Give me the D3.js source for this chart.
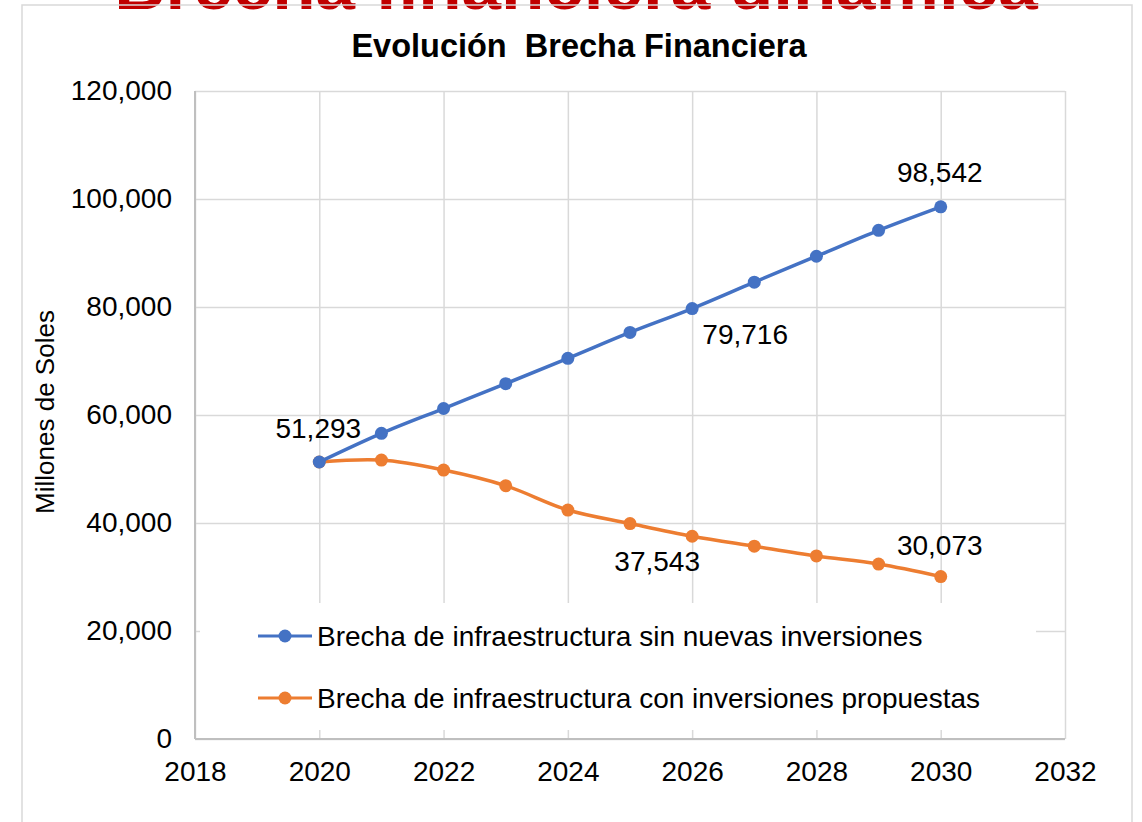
<!DOCTYPE html>
<html>
<head>
<meta charset="utf-8">
<script src="https://cdn.jsdelivr.net/npm/d3@7"></script>
<style>
  body { margin: 0; background: #fff; }
  text { font-family: "Liberation Sans", Arial, sans-serif; }
</style>
</head>
<body>
<div id="chart"></div>
<script>
var width = 1142;
var height = 822;

// data
var years = [2020, 2021, 2022, 2023, 2024, 2025, 2026, 2027, 2028, 2029, 2030];
var sinInversiones = [51293, 56600, 61200, 65800, 70500, 75300, 79716, 84600, 89400, 94200, 98542];
var conInversiones = [51293, 51650, 49800, 46900, 42400, 39900, 37543, 35700, 33900, 32400, 30073];
var seriesNames = ['Brecha de infraestructura sin nuevas inversiones',
                   'Brecha de infraestructura con inversiones propuestas'];
var xTicks = [2018, 2020, 2022, 2024, 2026, 2028, 2030, 2032];
var yTicks = [0, 20000, 40000, 60000, 80000, 100000, 120000];

var margin = { top: 91, right: 77, bottom: 83, left: 195 };
var chartWidth = width - margin.left - margin.right;
var chartHeight = height - margin.top - margin.bottom;

var blue = '#4472C4';
var orange = '#ED7D31';

var svg = d3.select('#chart').append('svg')
    .attr('width', width)
    .attr('height', height);

// red heading, cut off at the top as in the source image
svg.append('text')
    .attr('x', 576)
    .attr('y', 9)
    .attr('text-anchor', 'middle')
    .style('font-size', '71px')
    .style('font-weight', 'bold')
    .attr('fill', '#C00000')
    .text('Brecha financiera dinámica');

// chart frame
svg.append('rect')
    .attr('x', 22)
    .attr('y', 5)
    .attr('width', 1110)
    .attr('height', 840)
    .attr('fill', 'none')
    .attr('stroke', '#d9d9d9')
    .attr('stroke-width', 1.5);

svg.append('text')
    .attr('x', 579)
    .attr('y', 57)
    .attr('text-anchor', 'middle')
    .style('font-size', '32.5px')
    .style('font-weight', 'bold')
    .attr('fill', '#000')
    .attr('xml:space', 'preserve')
    .text('Evolución  Brecha Financiera');

var g = svg.append('g')
    .attr('transform', `translate(${margin.left}, ${margin.top})`);

var xScale = d3.scaleLinear()
    .domain([2018, 2032])
    .range([0, chartWidth]);

var yScale = d3.scaleLinear()
    .domain([0, 120000])
    .range([chartHeight, 0]);

// gridlines
g.append('g')
    .attr('class', 'grid')
    .call(d3.axisLeft(yScale).tickValues(yTicks).tickSize(-chartWidth).tickFormat(''))
    .call(a => a.select('.domain').remove());

g.append('g')
    .attr('class', 'grid')
    .attr('transform', `translate(0, ${chartHeight})`)
    .call(d3.axisBottom(xScale).tickValues(xTicks).tickSize(-chartHeight).tickFormat(''))
    .call(a => a.select('.domain').remove());

g.selectAll('.grid line')
    .attr('stroke', '#d9d9d9')
    .attr('stroke-width', 1.5);

// tick labels
var yAxis_g = g.append('g')
    .call(d3.axisLeft(yScale).tickValues(yTicks).tickSize(0).tickPadding(23).tickFormat(d3.format(',')));
yAxis_g.select('.domain').remove();

var xAxis_g = g.append('g')
    .attr('transform', `translate(0, ${chartHeight})`)
    .call(d3.axisBottom(xScale).tickValues(xTicks).tickSize(0).tickPadding(22).tickFormat(d3.format('d')));
xAxis_g.select('.domain').remove();

g.selectAll('.tick text')
    .style('font-size', '28px')
    .style('font-family', '"Liberation Sans", Arial, sans-serif')
    .attr('fill', '#000');

// axis lines
g.append('line')
    .attr('x1', 0).attr('x2', 0)
    .attr('y1', 0).attr('y2', chartHeight)
    .attr('stroke', '#bfbfbf').attr('stroke-width', 2);
g.append('line')
    .attr('x1', 0).attr('x2', chartWidth)
    .attr('y1', chartHeight).attr('y2', chartHeight)
    .attr('stroke', '#bfbfbf').attr('stroke-width', 2);

// y axis title
svg.append('text')
    .attr('transform', 'translate(54, 412) rotate(-90)')
    .attr('text-anchor', 'middle')
    .style('font-size', '26px')
    .attr('fill', '#000')
    .text('Millones de Soles');

// legend box sits inside the plot
var legend = g.append('g')
    .attr('transform', 'translate(5, 512)');

legend.append('rect')
    .attr('width', 836)
    .attr('height', 127)
    .attr('fill', '#fff');

var legendRows = legend.selectAll('.legend-row')
    .data(seriesNames)
    .enter()
    .append('g')
    .attr('class', 'legend-row')
    .attr('transform', (d, i) => `translate(58, ${33 + i * 62})`);

legendRows.append('line')
    .attr('x1', 0).attr('x2', 54)
    .attr('stroke', (d, i) => i === 0 ? blue : orange)
    .attr('stroke-width', 3);

legendRows.append('circle')
    .attr('cx', 27)
    .attr('r', 6.5)
    .attr('fill', (d, i) => i === 0 ? blue : orange);

legendRows.append('text')
    .attr('x', 59)
    .attr('dy', '0.35em')
    .style('font-size', '28px')
    .attr('fill', '#000')
    .text(d => d);

// lines
var lineGen = d3.line()
    .x(d => xScale(d[0]))
    .y(d => yScale(d[1]))
    .curve(d3.curveCatmullRom.alpha(0.5));

function drawSeries(values, color) {
    var pts = years.map((y, i) => [y, values[i]]);

    g.append('path')
        .datum(pts)
        .attr('d', lineGen)
        .attr('fill', 'none')
        .attr('stroke', color)
        .attr('stroke-width', 3.5);

    g.selectAll(null)
        .data(pts)
        .enter()
        .append('circle')
        .attr('cx', d => xScale(d[0]))
        .attr('cy', d => yScale(d[1]))
        .attr('r', 6.5)
        .attr('fill', color);
}

drawSeries(conInversiones, orange);
drawSeries(sinInversiones, blue);

// data labels (index in series, offset from point)
function addLabel(values, i, dx, dy) {
    g.append('text')
        .attr('x', xScale(years[i]) + dx)
        .attr('y', yScale(values[i]) + dy)
        .attr('dy', '0.35em')
        .attr('text-anchor', 'middle')
        .style('font-size', '28px')
        .attr('fill', '#000')
        .text(d3.format(',')(values[i]));
}

addLabel(sinInversiones, 0, -1, -34);
addLabel(sinInversiones, 6, 53, 26);
addLabel(sinInversiones, 10, -1, -35);
addLabel(conInversiones, 6, -35, 25);
addLabel(conInversiones, 10, -1, -31);
</script>
</body>
</html>
